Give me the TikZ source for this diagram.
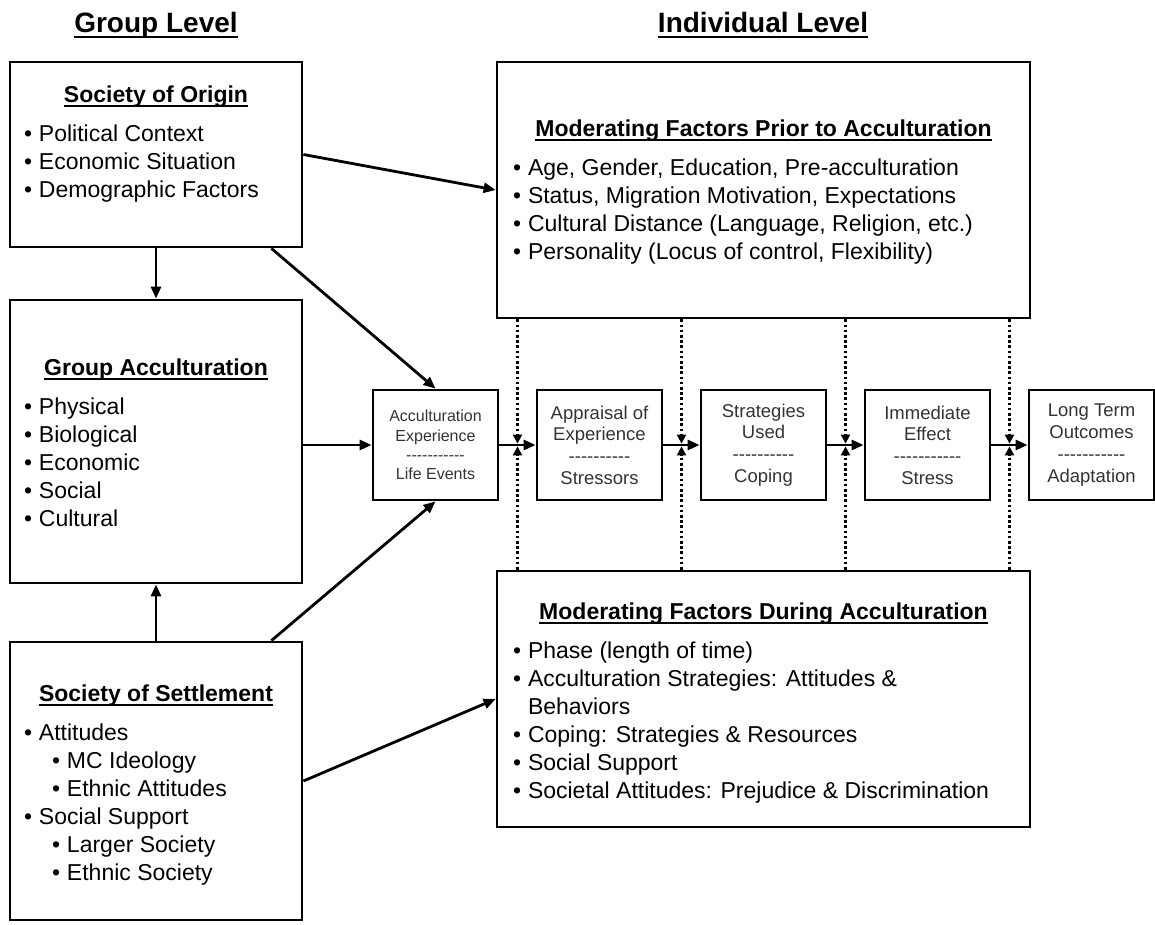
\documentclass[tikz,border=0pt]{standalone}
\usepackage{fontspec}
\setmainfont{Liberation Sans}
\usetikzlibrary{arrows.meta, positioning}
\definecolor{stagegray}{gray}{0.2}
\newcommand{\ulbar}[1]{\setbox0=\hbox{#1}\leavevmode\rlap{\rule[-0.2em]{\wd0}{0.07em}}\box0}
\newcommand{\boxtitle}[1]{{\centering\bfseries\strut\ulbar{#1}\par}\vspace{11pt}}
\newcommand{\itm}[1]{\par\hangindent=15pt\hangafter=1\noindent\makebox[15pt][l]{\textbullet}#1}
\newcommand{\subitm}[1]{\par\noindent\hspace*{28pt}\makebox[15pt][l]{\textbullet}#1}
\newcommand{\dashrow}[1]{\foreach \k in {1,...,#1}{-}}
\tikzstyle{level}=[font=\fontsize{28}{32}\selectfont\bfseries]
\tikzstyle{factorbox}=[draw, line width=2.8pt, inner sep=0pt, font=\fontsize{23}{28}\selectfont]
\tikzstyle{stage}=[draw, line width=2.8pt, minimum width=125pt, minimum height=110pt,
                   align=center, text=stagegray, font=\fontsize{18.5}{21.7}\selectfont]
\tikzstyle{flow}=[line width=2.8pt, -{Triangle[length=12pt,width=10pt]}]
\tikzstyle{moderate}=[line width=2.6pt, dash pattern=on 2.6pt off 2.6pt,
                      -{Triangle[length=9pt,width=9pt]}, shorten >=1.4pt]
\begin{document}
\begin{tikzpicture}[x=1pt, y=-1pt]
  \useasboundingbox (0,0) rectangle (1155,924);

  \node[level, anchor=base] (grouplvl) at (156,32) {\ulbar{Group Level}};
  \node[level, anchor=base] (indivlvl) at (763,32) {\ulbar{Individual Level}};

  % group level
  \node[factorbox, minimum width=292pt, minimum height=185pt] (origin) at (156,154.5)
    {\parbox[c][185pt][t]{264pt}{\vspace*{20.6pt}\boxtitle{Society of Origin}
      \itm{Political Context}\itm{Economic Situation}\itm{Demographic Factors}}};
  \node[factorbox, minimum width=292pt, minimum height=283pt] (groupacc) at (156,441.5)
    {\parbox[c][283pt][t]{264pt}{\vspace*{55.6pt}\boxtitle{Group Acculturation}
      \itm{Physical}\itm{Biological}\itm{Economic}\itm{Social}\itm{Cultural}}};
  \node[factorbox, minimum width=292pt, minimum height=278pt] (settle) at (156,781)
    {\parbox[c][278pt][t]{264pt}{\vspace*{39.6pt}\boxtitle{Society of Settlement}
      \itm{Attitudes}\subitm{MC Ideology}\subitm{Ethnic Attitudes}
      \itm{Social Support}\subitm{Larger Society}\subitm{Ethnic Society}}};

  % individual level
  \node[factorbox, minimum width=533pt, minimum height=256pt] (prior) at (763.5,190)
    {\parbox[c][256pt][t]{501pt}{\vspace*{54.6pt}\boxtitle{Moderating Factors Prior to Acculturation}
      \itm{Age, Gender, Education, Pre-acculturation}
      \itm{Status, Migration Motivation, Expectations}
      \itm{Cultural Distance (Language, Religion, etc.)}
      \itm{Personality (Locus of control, Flexibility)}}};
  \node[factorbox, minimum width=533pt, minimum height=256pt] (during) at (763.5,699)
    {\parbox[c][256pt][t]{501pt}{\vspace*{28.6pt}\boxtitle{Moderating Factors During Acculturation}
      \itm{Phase (length of time)}
      \itm{Acculturation Strategies: Attitudes \&\\Behaviors}
      \itm{Coping: Strategies \& Resources}
      \itm{Social Support}
      \itm{Societal Attitudes: Prejudice \& Discrimination}}};

  \node[stage, font=\fontsize{16}{19.3}\selectfont] (c1) at (435.5,445)
    {Acculturation\\Experience\\\dashrow{11}\\Life Events};
  \node[stage, right=36.2pt of c1] (c2) {Appraisal of\\Experience\\\dashrow{10}\\Stressors};
  \node[stage, right=36.2pt of c2] (c3) {Strategies\\Used\\\dashrow{10}\\Coping};
  \node[stage, right=36.2pt of c3] (c4) {Immediate\\Effect\\\dashrow{11}\\Stress};
  \node[stage, right=36.2pt of c4] (c5) {Long Term\\Outcomes\\\dashrow{11}\\Adaptation};

  % connectors
  \draw[flow] (origin) -- (groupacc);
  \draw[flow] (settle) -- (groupacc);
  \draw[flow] (groupacc.east |- c1.west) -- (c1.west);
  \draw[flow] (origin.east) -- (prior.west);
  \draw[flow] ([xshift=-32pt]origin.south east) -- (c1.north);
  \draw[flow] ([xshift=-32pt]settle.north east) -- (c1.south);
  \draw[flow] (settle.east) -- (during.west);

  \foreach \i [count=\j from 2] in {1,...,4}{
    \draw[flow] (c\i) -- (c\j);
    \path (c\i.east) -- (c\j.west) coordinate[midway] (m\i);
    \draw[moderate] (prior.south -| m\i) -- (m\i);
    \draw[moderate] (during.north -| m\i) -- (m\i);
  }
\end{tikzpicture}
\end{document}
